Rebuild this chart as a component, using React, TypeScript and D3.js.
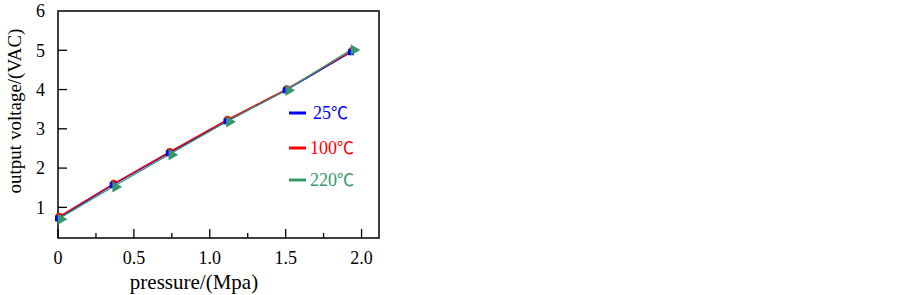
import React, { useEffect, useRef } from 'react';
import * as d3 from 'd3';

const pressure = [0, 0.36, 0.73, 1.11, 1.5, 1.93];
const v25 = [0.72, 1.57, 2.38, 3.19, 3.98, 4.95];
const v100 = [0.75, 1.59, 2.4, 3.22, 4.0, 4.97];
const v220 = [0.7, 1.52, 2.34, 3.18, 3.98, 5.01];
const seriesNames = ['25', '100', '220'];
const xTicks = [0, 0.5, 1.0, 1.5, 2.0];
const xTickLabels = ['0', '0.5', '1.0', '1.5', '2.0'];
const yTicks = [1, 2, 3, 4, 5, 6];

const App: React.FC = () => {
  const ref = useRef<SVGSVGElement>(null);

  useEffect(() => {
    const svg = d3.select(ref.current);
    svg.selectAll('*').remove();
    const font = '"Liberation Serif", "Times New Roman", serif';

    const left = 58, right = 379, top = 11, bottom = 238;
    const x = d3.scaleLinear().domain([0, 2.115]).range([left, right]);
    const y = d3.scaleLinear().domain([0.22, 6]).range([bottom, top]);

    const colors = ['#0000ff', '#ff0000', '#36986a'];
    const series = [v25, v100, v220];

    // frame
    svg.append('rect')
      .attr('x', left).attr('y', top)
      .attr('width', right - left).attr('height', bottom - top)
      .attr('fill', 'none').attr('stroke', '#000').attr('stroke-width', 1.5);

    // x ticks (inward), majors and minors
    const xMinor = d3.range(0.25, 2.1, 0.5);
    const gx = svg.append('g');
    gx.selectAll('line.maj').data(xTicks).join('line')
      .attr('x1', d => x(d)).attr('x2', d => x(d))
      .attr('y1', bottom).attr('y2', bottom - 9)
      .attr('stroke', '#000').attr('stroke-width', 1.3);
    gx.selectAll('line.min').data(xMinor).join('line')
      .attr('x1', d => x(d)).attr('x2', d => x(d))
      .attr('y1', bottom).attr('y2', bottom - 5)
      .attr('stroke', '#000').attr('stroke-width', 1.3);
    gx.selectAll('text').data(xTicks).join('text')
      .attr('x', d => x(d)).attr('y', 258)
      .attr('dy', '0.35em')
      .attr('text-anchor', 'middle')
      .attr('font-family', font).attr('font-size', 18)
      .text((d, i) => xTickLabels[i]);

    // y ticks
    const gy = svg.append('g');
    gy.selectAll('line').data(yTicks.filter(d => d < 6)).join('line')
      .attr('x1', left).attr('x2', left + 9)
      .attr('y1', d => y(d)).attr('y2', d => y(d))
      .attr('stroke', '#000').attr('stroke-width', 1.3);
    gy.selectAll('text').data(yTicks).join('text')
      .attr('x', 45).attr('y', d => y(d))
      .attr('dy', '0.35em')
      .attr('text-anchor', 'end')
      .attr('font-family', font).attr('font-size', 18)
      .text(d => d);

    // axis titles
    svg.append('text')
      .attr('x', 194).attr('y', 282)
      .attr('dy', '0.35em')
      .attr('text-anchor', 'middle')
      .attr('font-family', font).attr('font-size', 21)
      .text('pressure/(Mpa)');
    svg.append('text')
      .attr('transform', `translate(14,111) rotate(-90)`)
      .attr('dy', '0.35em')
      .attr('text-anchor', 'middle')
      .attr('font-family', font).attr('font-size', 19)
      .text('output voltage/(VAC)');

    // lines
    const line = d3.line<number>()
      .x((d, i) => x(pressure[i]))
      .y(d => y(d));
    series.forEach((s, k) => {
      svg.append('path')
        .datum(s)
        .attr('d', line)
        .attr('fill', 'none')
        .attr('stroke', colors[k])
        .attr('stroke-width', 1.3);
    });

    // markers
    const shapes = [d3.symbolSquare, d3.symbolCircle, d3.symbolTriangle];
    const offsets = [[0, 0], [1, -1], [3, 0]];
    const rot = [0, 0, 90];
    const sizes = [36, 36, 55];
    [1, 0, 2].forEach(k => {
      svg.append('g').selectAll('path').data(series[k]).join('path')
        .attr('d', d3.symbol().type(shapes[k]).size(sizes[k])())
        .attr('transform', (d, i) =>
          `translate(${x(pressure[i]) + offsets[k][0]},${y(d) + offsets[k][1]}) rotate(${rot[k]})`)
        .attr('fill', colors[k]);
    });

    // legend
    const leg = [113, 148, 180];
    seriesNames.forEach((name, k) => {
      svg.append('line')
        .attr('x1', 289).attr('x2', 306)
        .attr('y1', leg[k]).attr('y2', leg[k])
        .attr('stroke', colors[k]).attr('stroke-width', 3);
      const t = svg.append('text')
        .attr('x', k === 0 ? 313 : 310).attr('y', leg[k])
        .attr('dy', '0.35em')
        .attr('font-size', 18)
        .attr('fill', colors[k]);
      t.append('tspan').attr('font-family', font).text(name);
      t.append('tspan').attr('font-family', '"Noto Sans CJK SC", sans-serif')
        .attr('font-size', 17).text('℃');
    });
  }, []);

  return <svg ref={ref} width={903} height={295} style={{ position: 'absolute', left: 0, top: 0, background: '#fff' }} />;
};

export default App;
